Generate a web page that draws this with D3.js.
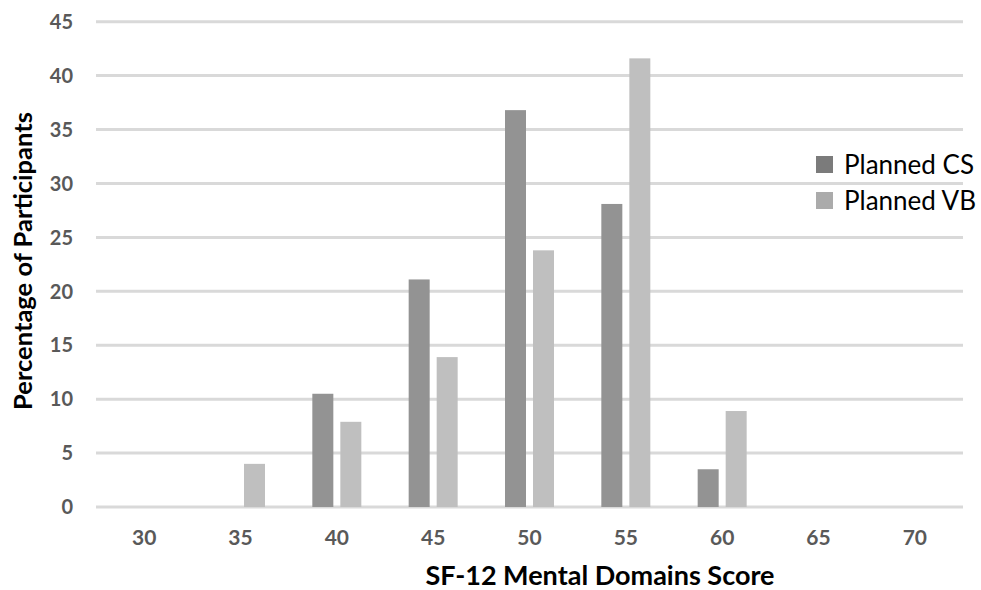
<!DOCTYPE html>
<html>
<head>
<meta charset="utf-8">
<script src="https://cdn.jsdelivr.net/npm/d3@7"></script>
<style>
  html, body { margin: 0; padding: 0; background: #fff; }
  svg { display: block; }
</style>
</head>
<body>
<svg id="chart" width="981" height="590"></svg>
<script>
// SF-12 mental domain score distribution by planned delivery mode
const categories = ["30", "35", "40", "45", "50", "55", "60", "65", "70"];
const seriesNames = ["Planned CS", "Planned VB"];
const plannedCS = [0, 0, 10.5, 21.1, 36.8, 28.1, 3.5, 0, 0];
const plannedVB = [0, 4.0, 7.9, 13.9, 23.8, 41.6, 8.9, 0, 0];
const yTicks = [0, 5, 10, 15, 20, 25, 30, 35, 40, 45];

const barColors = ["#939393", "#bfbfbf"];
const legendColors = ["#7b7b7b", "#ababab"];
const font = "Lato, 'Open Sans', sans-serif";

const svg = d3.select("#chart");
const plot = { left: 96, right: 963, top: 21.7, bottom: 507 };

const x = d3.scaleBand().domain(categories).range([plot.left, plot.right]).padding(0);
const inner = d3.scaleBand().domain(seriesNames).range([-24.5, 24.5]).paddingInner(0.25);
const y = d3.scaleLinear().domain([0, 45]).range([plot.bottom, plot.top]);

// horizontal gridlines (the 0 line doubles as the axis)
svg.append("g").selectAll("line").data(yTicks).join("line")
  .attr("x1", plot.left).attr("x2", plot.right)
  .attr("y1", d => y(d)).attr("y2", d => y(d))
  .attr("stroke", "#d9d9d9").attr("stroke-width", 3);

// y tick labels
svg.append("g").selectAll("text").data(yTicks).join("text")
  .attr("x", 73).attr("y", d => y(d)).attr("dy", "0.36em")
  .attr("text-anchor", "end")
  .attr("font-family", font).attr("font-weight", 700).attr("font-size", 20)
  .attr("fill", "#595959")
  .text(d => d);

// bars
const series = [plannedCS, plannedVB];
series.forEach((vals, si) => {
  svg.append("g").selectAll("rect").data(vals.map((v, i) => ({ cat: categories[i], v })))
    .join("rect")
    .filter(d => d.v > 0)
    .attr("x", d => x(d.cat) + x.bandwidth() / 2 + inner(seriesNames[si]))
    .attr("width", inner.bandwidth())
    .attr("y", d => y(d.v))
    .attr("height", d => y(0) - y(d.v))
    .attr("fill", barColors[si]);
});

// x tick labels
svg.append("g").selectAll("text").data(categories).join("text")
  .attr("x", d => x(d) + x.bandwidth() / 2).attr("y", 545)
  .attr("text-anchor", "middle")
  .attr("font-family", font).attr("font-weight", 700).attr("font-size", 21)
  .attr("fill", "#595959")
  .text(d => d);

// axis titles
svg.append("text")
  .attr("x", 600).attr("y", 585)
  .attr("text-anchor", "middle")
  .attr("font-family", font).attr("font-weight", 700).attr("font-size", 27)
  .attr("fill", "#000")
  .text("SF-12 Mental Domains Score");

svg.append("text")
  .attr("transform", "translate(32,261) rotate(-90)")
  .attr("text-anchor", "middle")
  .attr("font-family", font).attr("font-weight", 700).attr("font-size", 25.5)
  .attr("fill", "#000")
  .text("Percentage of Participants");

// legend
const legend = svg.append("g").selectAll("g").data(seriesNames).join("g")
  .attr("transform", (d, i) => `translate(816,${156 + i * 36})`);
legend.append("rect").attr("width", 17).attr("height", 17)
  .attr("fill", (d, i) => legendColors[i]);
legend.append("text")
  .attr("x", 28).attr("y", 8.5).attr("dy", "0.36em")
  .attr("font-family", font).attr("font-size", 26).attr("fill", "#000")
  .text(d => d);
</script>
</body>
</html>
